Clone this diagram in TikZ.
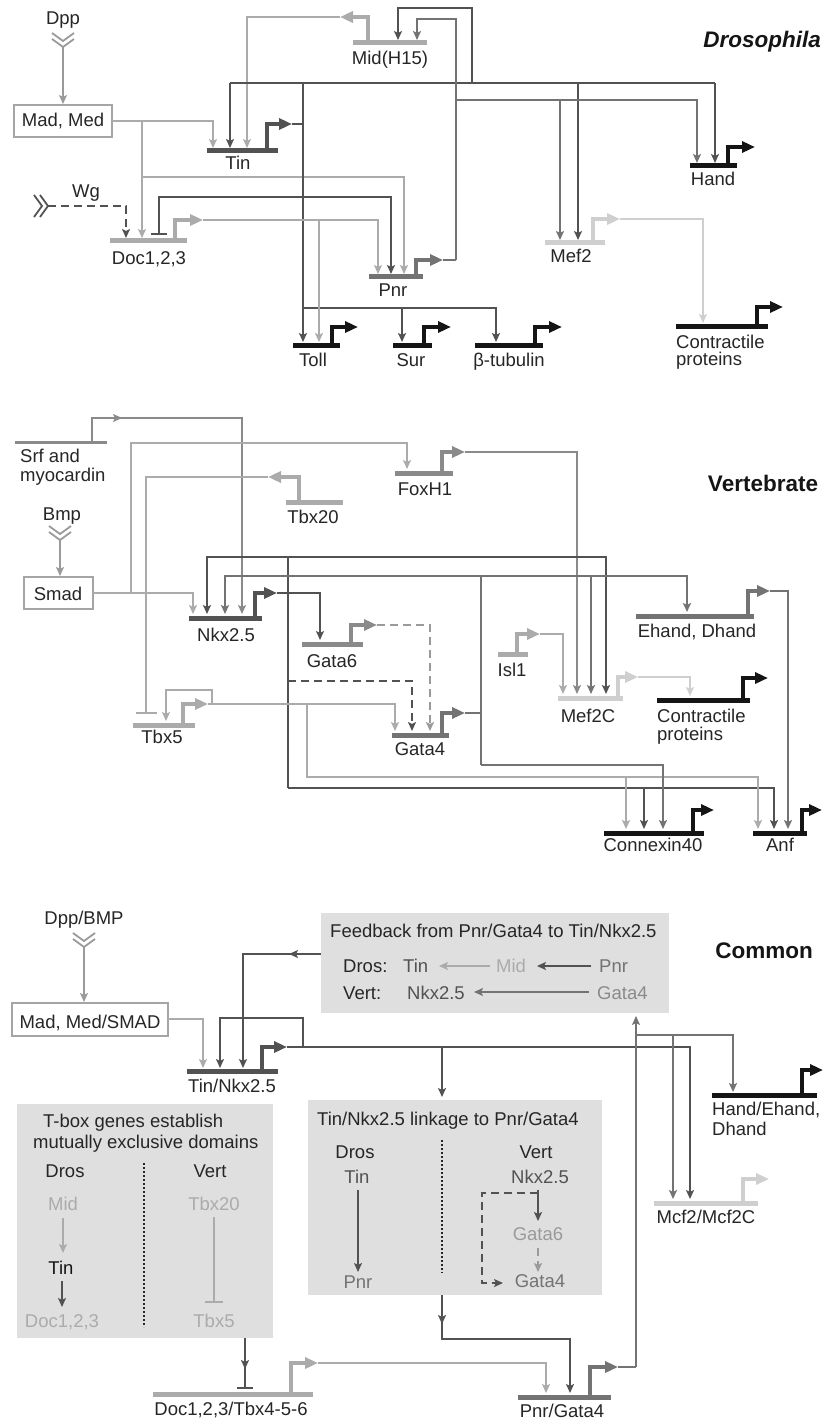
\documentclass[tikz,border=0pt]{standalone}
\usepackage{fontspec}
\setmainfont{Liberation Sans}
\usetikzlibrary{arrows.meta}
\definecolor{dk}{HTML}{525252}
\definecolor{md}{HTML}{737373}
\definecolor{mg}{HTML}{8A8A8A}
\definecolor{ltt}{HTML}{9A9A9A}
\definecolor{lt}{HTML}{ABABAB}
\definecolor{vl}{HTML}{CFCFCF}
\definecolor{bk}{HTML}{151515}
\definecolor{txt}{HTML}{262626}
\definecolor{boxbg}{HTML}{DFDFDF}
\definecolor{boxc}{HTML}{A5A5A5}
\tikzset{
  >={Stealth[length=9pt,width=8pt,inset=2pt]},
  wire/.style={line width=1.8pt},
  genebar/.style={line width=5pt},
  prom/.style={line width=4.5pt,line join=miter,-{Triangle[length=13pt,width=11pt]}},
  lbl/.style={anchor=base,inner sep=0pt,text=txt},
  lblw/.style={anchor=base west,inner sep=0pt,text=txt},
  dsh/.style={dash pattern=on 8pt off 5pt},
  dotl/.style={line width=2pt,dash pattern=on 2pt off 2pt,txt},
  chev/.style={line width=1.8pt},
  ttl/.style={anchor=base,inner sep=0pt,text=bk,font=\bfseries\fontsize{22.5}{26}\selectfont},
}
\newcommand{\gbar}[4]{\draw[genebar,#4] (#1,#3) -- (#2,#3);}
\newcommand{\gprom}[5]{\draw[prom,#5] (#1,#2) |- (#4,#3);}
\begin{document}
\begin{tikzpicture}[x=1pt,y=-1pt,font=\fontsize{18.5}{21}\selectfont]
\useasboundingbox (0,0) rectangle (824,1420);
\fill[white] (0,0) rectangle (824,1420);

%%%%%%%%%%%%%%%%%%%% DROSOPHILA %%%%%%%%%%%%%%%%%%%%
\node[ttl,font=\bfseries\itshape\fontsize{22.5}{26}\selectfont] (tdros) at (762,48) {Drosophila};
% Dpp
\node[lbl] (dpp) at (63,25) {Dpp};
\draw[chev,ltt] (52,33)--(63,41)--(74,33) (52,39)--(63,47)--(74,39);
\draw[->,wire,ltt] (63,47) -- (63,104);
\draw[line width=2.2pt,boxc] (14,105) rectangle (112,137);
\node[lbl] (madmed) at (63,127) {Mad, Med};
% Mad/Med wires
\draw[->,wire,lt] (112,121) -- (213,121) -- (213,148);
\draw[->,wire,lt] (142,121) -- (142,238);
\draw[->,wire,lt] (142,177) -- (404,177) -- (404,274);
% Wg
\node[lbl] (wg) at (86,198) {Wg};
\draw[chev,dk] (34,195)--(42,206)--(34,217) (40,195)--(48,206)--(40,217);
\draw[->,wire,dk,dsh] (48,206) -- (126,206) -- (126,238);
% Mid
\gbar{353}{427}{43}{lt}
\gprom{368}{43}{17}{340}{lt}
\draw[->,wire,lt] (340,17) -- (247,17) -- (247,148);
\node[lbl] (mid) at (390,65) {Mid(H15)};
% Tin
\gbar{207}{278}{151}{dk}
\gprom{267}{151}{124}{292}{dk}
\node[lbl] (tin) at (238,170) {Tin};
\draw[wire,dk] (292,124) -- (303,124);
\draw[->,wire,dk] (303,83) -- (303,342);
\draw[->,wire,dk] (230,83) -- (230,148);
\draw[wire,dk] (230,83) -- (715,83);
\draw[->,wire,dk] (715,83) -- (715,163);
\draw[->,wire,dk] (578,83) -- (578,240);
\draw[->,wire,dk] (472,83) -- (472,8) -- (398,8) -- (398,40);
\draw[->,wire,dk] (303,308) -- (496,308) -- (496,342);
\draw[->,wire,dk] (402,308) -- (402,342);
\draw[wire,dk,{Bar[width=16pt]}->] (159,235) -- (159,197) -- (391,197) -- (391,274);
% Pnr
\gbar{369}{423}{277}{md}
\gprom{416}{277}{260}{443}{md}
\node[lbl] (pnr) at (393,297) {Pnr};
\draw[wire,md] (443,260) -- (456,260);
\draw[->,wire,md] (456,260) -- (456,19) -- (417,19) -- (417,40);
\draw[->,wire,md] (456,100) -- (697,100) -- (697,163);
\draw[->,wire,md] (560,100) -- (560,240);
% Doc
\gbar{110}{187}{241}{lt}
\gprom{175}{241}{220}{203}{lt}
\node[lbl] (doc) at (149,265) {Doc1,2,3};
\draw[->,wire,lt] (203,220) -- (378,220) -- (378,274);
\draw[->,wire,lt] (319,220) -- (319,342);
% Mef2
\gbar{545}{605}{243}{vl}
\gprom{593}{243}{219}{620}{vl}
\node[lbl] (mef2) at (571,263) {Mef2};
\draw[->,wire,vl] (620,219) -- (703,219) -- (703,323);
% Targets
\gbar{690}{737}{166}{bk}\gprom{728}{166}{147}{755}{bk}
\node[lbl] (hand) at (713,186) {Hand};
\gbar{293}{340}{345}{bk}\gprom{332}{345}{327}{358}{bk}
\node[lbl] (toll) at (313,366) {Toll};
\gbar{393}{432}{345}{bk}\gprom{424}{345}{327}{451}{bk}
\node[lbl] (sur) at (411,366) {Sur};
\gbar{475}{543}{345}{bk}\gprom{535}{345}{327}{562}{bk}
\node[lbl] (btub) at (509,366) {β-tubulin};
\gbar{676}{768}{326}{bk}\gprom{757}{326}{307}{783}{bk}
\node[lblw] (cp1) at (676,348) {Contractile};
\node[lblw] (cp2) at (676,365) {proteins};

%%%%%%%%%%%%%%%%%%%% VERTEBRATE %%%%%%%%%%%%%%%%%%%%
\node[ttl] (tvert) at (763,491) {Vertebrate};
% Srf
\draw[line width=3pt,mg] (15,442) -- (107,442);
\draw[->,wire,mg] (92,442) -- (92,418) -- (122,418);
\draw[->,wire,mg] (118,418) -- (242,418) -- (242,614);
\node[lblw] (srf1) at (20,462) {Srf and};
\node[lblw] (srf2) at (20,481) {myocardin};
% Bmp / Smad
\node[lbl] (bmp) at (62,520) {Bmp};
\draw[chev,ltt] (49,526)--(60,534)--(71,526) (49,532)--(60,540)--(71,532);
\draw[->,wire,ltt] (60,540) -- (60,576);
\draw[line width=2.2pt,boxc] (24,577) rectangle (93,609);
\node[lbl] (smad) at (58,600) {Smad};
\draw[->,wire,lt] (93,593) -- (193,593) -- (193,614);
\draw[->,wire,lt] (131,593) -- (131,443) -- (407,443) -- (407,469);
% FoxH1
\gbar{395}{453}{473}{mg}
\gprom{442}{473}{452}{465}{mg}
\node[lbl] (foxh1) at (425,495) {FoxH1};
\draw[->,wire,mg] (465,452) -- (577,452) -- (577,694);
% Tbx20
\gbar{286}{343}{502}{lt}
\gprom{299}{502}{477}{268}{lt}
\node[lbl] (tbx20) at (313,523) {Tbx20};
\draw[wire,lt,-{Bar[width=21pt]}] (268,477) -- (146,477) -- (146,714);
% Nkx2.5
\gbar{189}{262}{618}{dk}
\gprom{255}{618}{593}{277}{dk}
\node[lbl] (nkx) at (226,641) {Nkx2.5};
\draw[->,wire,dk] (277,593) -- (320,593) -- (320,640);
\draw[wire,dk] (288,557) -- (288,788);
\draw[->,wire,dk] (288,557) -- (207,557) -- (207,614);
\draw[->,wire,dk] (288,557) -- (606,557) -- (606,694);
\draw[->,wire,dk,dsh] (288,681) -- (412,681) -- (412,731);
\draw[->,wire,dk] (288,788) -- (774,788) -- (774,829);
\draw[->,wire,dk] (644,788) -- (644,829);
% Gata6
\gbar{302}{363}{644}{mg}
\gprom{351}{644}{625}{377}{mg}
\node[lbl] (gata6) at (332,667) {Gata6};
\draw[->,wire,ltt,dsh] (377,625) -- (430,625) -- (430,731);
% Tbx5
\gbar{133}{195}{725}{lt}
\gprom{183}{725}{704}{208}{lt}
\node[lbl] (tbx5) at (162,743) {Tbx5};
\draw[->,wire,lt] (208,704) -- (212,704) -- (212,690) -- (166,690) -- (166,721);
\draw[->,wire,lt] (208,704) -- (395,704) -- (395,731);
\draw[->,wire,lt] (307,704) -- (307,777) -- (758,777) -- (758,829);
\draw[->,wire,lt] (626,777) -- (626,829);
% Gata4
\gbar{392}{449}{735}{md}
\gprom{442}{735}{713}{465}{md}
\node[lbl] (gata4) at (420,755) {Gata4};
\draw[wire,md] (465,713) -- (481,713);
\draw[wire,md] (481,576) -- (481,765);
\draw[->,wire,md] (481,576) -- (225,576) -- (225,614);
\draw[->,wire,md] (481,576) -- (687,576) -- (687,612);
\draw[->,wire,md] (591,576) -- (591,694);
\draw[->,wire,md] (481,765) -- (663,765) -- (663,829);
% Ehand
\gbar{636}{754}{616}{md}
\gprom{748}{616}{591}{770}{md}
\node[lbl] (ehand) at (697,637) {Ehand, Dhand};
\draw[->,wire,md] (770,591) -- (788,591) -- (788,829);
% Isl1
\gbar{498}{528}{654}{lt}
\gprom{517}{654}{634}{540}{lt}
\node[lbl] (isl1) at (512,676) {Isl1};
\draw[->,wire,lt] (540,634) -- (563,634) -- (563,694);
% Mef2C
\gbar{558}{623}{698}{vl}
\gprom{618}{698}{677}{638}{vl}
\node[lbl] (mef2c) at (588,722) {Mef2C};
\draw[->,wire,vl] (638,677) -- (690,677) -- (690,696);
% targets
\gbar{657}{750}{700}{bk}\gprom{743}{700}{678}{768}{bk}
\node[lblw] (vcp1) at (657,722) {Contractile};
\node[lblw] (vcp2) at (657,740) {proteins};
\gbar{604}{704}{833}{bk}\gprom{693}{833}{810}{714}{bk}
\node[lbl] (cx40) at (653,851) {Connexin40};
\gbar{753}{807}{833}{bk}\gprom{802}{833}{810}{822}{bk}
\node[lbl] (anf) at (780,851) {Anf};

%%%%%%%%%%%%%%%%%%%% COMMON %%%%%%%%%%%%%%%%%%%%
\node[ttl] (tcom) at (764,958) {Common};
\node[lbl] (dppbmp) at (84,924) {Dpp/BMP};
\draw[chev,ltt] (73,933)--(84,941)--(95,933) (73,939)--(84,947)--(95,939);
\draw[->,wire,ltt] (84,947) -- (84,1002);
\draw[line width=2.2pt,boxc] (12,1003) rectangle (168,1036);
\node[lbl] (madsmad) at (90,1028) {Mad, Med/SMAD};
\draw[->,wire,lt] (168,1019) -- (203,1019) -- (203,1068);
% boxes
\fill[boxbg] (321,913) rectangle (669,1013);
\fill[boxbg] (308,1100) rectangle (602,1295);
\fill[boxbg] (17,1104) rectangle (273,1338);
% Tin/Nkx2.5
\gbar{187}{278}{1071}{dk}
\gprom{262}{1071}{1047}{287}{dk}
\node[lbl] (tinnkx) at (232,1092) {Tin/Nkx2.5};
\draw[->,wire,dk] (287,1047) -- (690,1047) -- (690,1199);
\draw[->,wire,dk] (303,1047) -- (303,1018) -- (220,1018) -- (220,1068);
\draw[->,wire,dk] (442,1047) -- (442,1097);
\draw[->,wire,dk] (321,954) -- (289,954);
\draw[->,wire,dk] (292,954) -- (243,954) -- (243,1068);
% Feedback box content
\node[lblw] (fbt) at (330,937) {Feedback from Pnr/Gata4 to Tin/Nkx2.5};
\node[lblw] (fbd) at (343,972) {Dros:};
\node[lblw] (fbv) at (343,999) {Vert:};
\node[lblw,text=dk] (fbtin) at (403,972) {Tin};
\node[lblw,text=lt] (fbmid) at (496,972) {Mid};
\node[lblw,text=md] (fbpnr) at (599,972) {Pnr};
\node[lblw,text=dk] (fbnkx) at (407,999) {Nkx2.5};
\node[lblw,text=mg] (fbg4) at (597,999) {Gata4};
\draw[->,wire,lt] (fbmid.west|-0,966) ++(-6,0) -- (439,966);
\draw[->,wire,dk] (591,966) -- (537,966);
\draw[->,wire,md] (589,992) -- (474,992);
% Pnr/Gata4
\gbar{518}{611}{1397}{md}
\gprom{590}{1397}{1367}{618}{md}
\node[lbl] (pnrg4) at (562,1417) {Pnr/Gata4};
\draw[wire,md] (618,1367) -- (636,1367);
\draw[->,wire,md] (636,1367) -- (636,1016);
\draw[->,wire,md] (636,1035) -- (733,1035) -- (733,1092);
\draw[->,wire,md] (673,1035) -- (673,1199);
% Hand, Mcf2
\gbar{712}{817}{1095}{bk}\gprom{802}{1095}{1070}{823}{bk}
\node[lblw] (hand2a) at (712,1115) {Hand/Ehand,};
\node[lblw] (hand2b) at (712,1135) {Dhand};
\gbar{654}{758}{1203}{vl}\gprom{743}{1203}{1179}{769}{vl}
\node[lbl] (mcf2) at (706,1223) {Mcf2/Mcf2C};
% Linkage box
\node[lblw] (lkt) at (317,1125) {Tin/Nkx2.5 linkage to Pnr/Gata4};
\node[lbl] (lkd) at (355,1158) {Dros};
\node[lbl,text=dk] (lktin) at (357,1183) {Tin};
\node[lbl,text=md] (lkpnr) at (358,1288) {Pnr};
\draw[->,wire,dk] (358,1190) -- (358,1272);
\draw[dotl] (442,1140) -- (442,1273);
\node[lbl] (lkv) at (536,1158) {Vert};
\node[lbl,text=dk] (lknkx) at (540,1183) {Nkx2.5};
\node[lbl,text=ltt] (lkg6) at (538,1240) {Gata6};
\node[lbl,text=md] (lkg4) at (540,1287) {Gata4};
\draw[->,wire,dk] (538,1190) -- (538,1221);
\draw[->,wire,dk,dsh] (538,1193) -- (482,1193) -- (482,1283) -- (503,1283);
\draw[->,wire,ltt,dsh] (538,1248) -- (538,1272);
\draw[->,wire,dk] (442,1295) -- (442,1324);
\draw[->,wire,dk] (442,1320) -- (442,1339) -- (570,1339) -- (570,1393);
% T-box box
\node[lblw] (tbt1) at (43,1127) {T-box genes establish};
\node[lblw] (tbt2) at (33,1148) {mutually exclusive domains};
\node[lbl] (tbd) at (65,1177) {Dros};
\node[lbl] (tbv) at (210,1177) {Vert};
\draw[dotl] (144,1163) -- (144,1327);
\node[lbl,text=lt] (tbmid) at (63,1210) {Mid};
\draw[->,wire,lt] (63,1218) -- (63,1253);
\node[lbl,text=bk] (tbtin) at (61,1274) {Tin};
\draw[->,wire,dk] (62,1281) -- (62,1307);
\node[lbl,text=lt] (tbdoc) at (62,1327) {Doc1,2,3};
\node[lbl,text=lt] (tbx20c) at (214,1210) {Tbx20};
\draw[wire,lt,-{Bar[width=18pt]}] (214,1217) -- (214,1303);
\node[lbl,text=lt] (tbx5c) at (214,1327) {Tbx5};
\draw[->,wire,dk] (245,1338) -- (245,1369);
\draw[wire,dk,-{Bar[width=16pt]}] (245,1365) -- (245,1389);
% Doc/Tbx
\gbar{153}{313}{1394}{lt}
\gprom{291}{1394}{1363}{318}{lt}
\node[lbl] (doctbx) at (231,1415) {Doc1,2,3/Tbx4-5-6};
\draw[->,wire,lt] (318,1363) -- (546,1363) -- (546,1393);
\end{tikzpicture}
\end{document}
